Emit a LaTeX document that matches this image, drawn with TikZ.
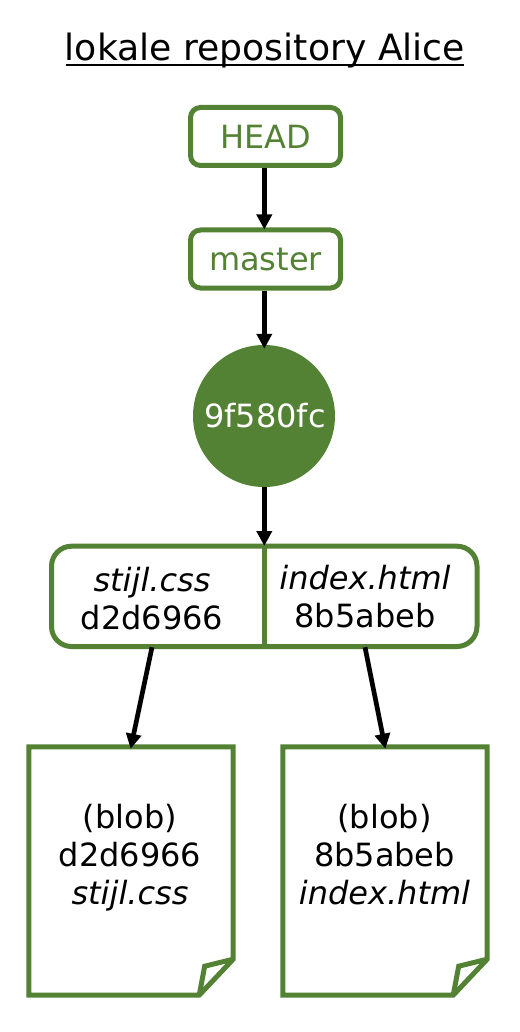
\documentclass[tikz,border=0pt]{standalone}
\usepackage{fontspec}
\setmainfont{DejaVu Sans}
\usetikzlibrary{arrows.meta}
\usetikzlibrary{calc}
\definecolor{gitgreen}{HTML}{548235}
\tikzset{
  label text/.style={font=\fontsize{32}{38}\selectfont,align=center,inner sep=0pt},
  refbox/.style={label text,draw=gitgreen,text=gitgreen,line width=5pt,rounded corners=10pt,minimum width=150pt,minimum height=58pt},
  cellbox/.style={label text,minimum width=100pt,minimum height=#1},
  blobbox/.style={label text,minimum width=204pt,minimum height=248pt},
  pointer/.style={line width=4.7pt,shorten >=-2pt,-{Triangle[length=15pt,width=15pt]}}
}
\newcommand{\blobshape}[1]{\draw[draw=gitgreen,line width=5pt,miter limit=10] (#1.north west) -- (#1.north east) -- ($(#1.south east)+(0,-36)$) -- ($(#1.south east)+(-34,0)$) -- (#1.south west) -- cycle ($(#1.south east)+(-34,0)$) -- ($(#1.south east)+(-28.5,-29)$) -- ($(#1.south east)+(0,-36)$);}
\begin{document}
\begin{tikzpicture}[x=1pt,y=-1pt]
    \useasboundingbox (0,0) rectangle (519,1032);
    % title
    \draw[line width=2pt] (66,65) -- (464,65);
    \node[font=\fontsize{36.2}{38}\selectfont,inner sep=0pt] (title) at (265,51) {lokale repository Alice};
    % refs
    \coordinate (axis) at (264.3,0);
    \node[refbox] (HEAD) at (265.5,136.5) {HEAD};
    \node[refbox] (master) at (265.5,259) {master};
    % commit
    \node[circle,fill=gitgreen,text=white,label text,minimum size=142pt] (commit) at (264,416) {\hspace*{2pt}9f580fc};
    % tree
    \draw[draw=gitgreen,line width=5pt,rounded corners=20pt] (51.5,546.2) rectangle (477,646.5);
    \draw[draw=gitgreen,line width=5pt] (264.5,546.2) -- (264.5,646.5);
    \node[cellbox=88pt] (cellA) at (152,603) {\strut\textit{stijl.css}\\d2d6966\strut};
    \node[cellbox=92pt] (cellB) at (365,601) {\strut\textit{index.html}\\8b5abeb\strut};
    % blobs
    \node[blobbox] (blobA) at (131,871) {};
    \node[blobbox] (blobB) at (385,871) {};
    \blobshape{blobA}
    \blobshape{blobB}
    \node[label text] (textA) at (130,859) {\strut(blob)\\d2d6966\\\textit{stijl.css}\strut};
    \node[label text] (textB) at (384.5,859) {\strut(blob)\\8b5abeb\\\textit{index.html}\strut};
    % pointers
    \draw[pointer] (HEAD.south -| axis) -- (master.north -| axis);
    \draw[pointer,shorten >=-4pt] (master.south -| axis) -- (commit.north -| axis);
    \draw[pointer,shorten >=0pt] (commit.south -| axis) -- (264.3,546);
    \draw[pointer] (cellA.south) -- (blobA.north);
    \draw[pointer] (cellB.south) -- (blobB.north);
\end{tikzpicture}
\end{document}
